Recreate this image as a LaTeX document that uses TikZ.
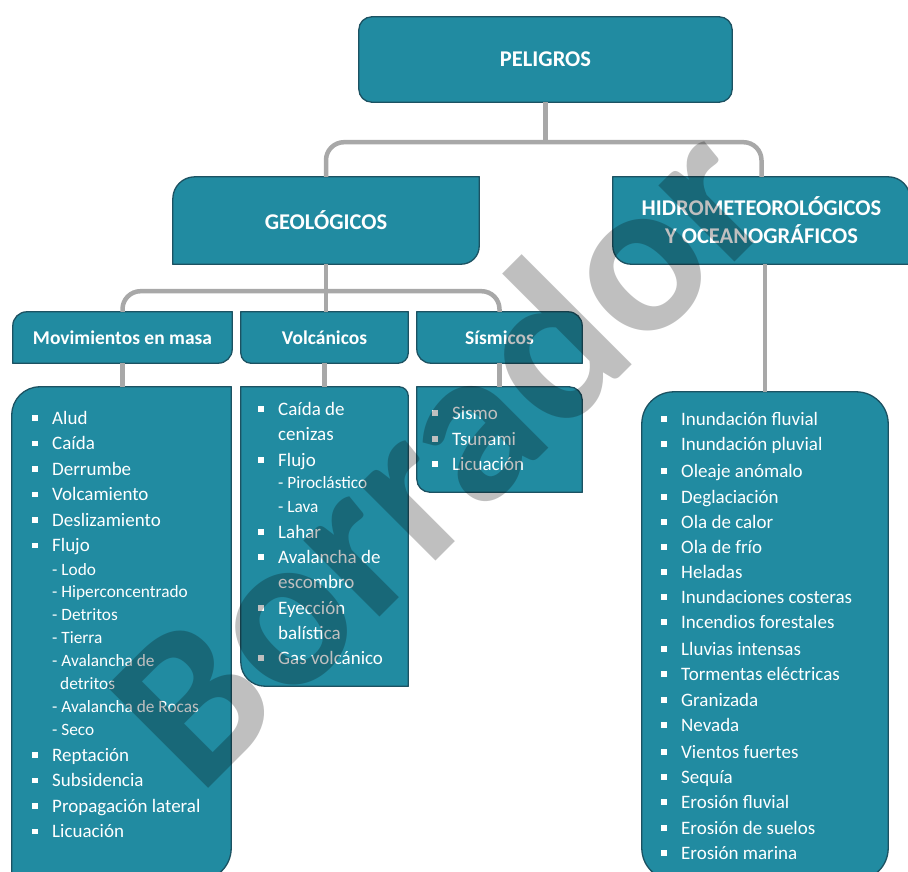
\documentclass[tikz,border=0pt]{standalone}
\usepackage{fontspec}
\setmainfont{Carlito}
\usetikzlibrary{calc}
\usetikzlibrary{backgrounds}
\definecolor{azulpel}{RGB}{33,139,161}
\definecolor{bordepel}{RGB}{28,82,98}
\definecolor{lineagris}{RGB}{168,168,168}

\tikzset{
  cajaborde/.style={fill=azulpel,draw=bordepel,line width=1.3pt},
  titulo/.style={inner sep=0pt,text=white,align=center,font=\bfseries\fontsize{22.5}{28}\selectfont},
  subtitulo/.style={titulo,font=\bfseries\fontsize{19.5}{24}\selectfont},
  lista/.style={inner sep=0pt},
  item/.style={anchor=base west,inner sep=0pt,text=white,font=\fontsize{19}{23}\selectfont},
  subitem/.style={item,font=\fontsize{17.3}{20}\selectfont},
  conector/.style={draw=lineagris,line width=4.5pt,rounded corners=18},
  marca/.style={rotate=45,text=black,text opacity=0.25,font=\bfseries\fontsize{222}{222}\selectfont}
}

% caja con radio propio en cada esquina: nodo, sup-izq, sup-der, inf-der, inf-izq
\newcommand{\dibujarcaja}[5]{%
  \begin{scope}[on background layer]
  \draw[cajaborde] ($(#1.north west)+(0,#2)$) arc[start angle=180,end angle=270,radius=#2]
    -- ($(#1.north east)-(#3,0)$) arc[start angle=270,end angle=360,radius=#3]
    -- ($(#1.south east)-(0,#4)$) arc[start angle=0,end angle=90,radius=#4]
    -- ($(#1.south west)+(#5,0)$) arc[start angle=90,end angle=180,radius=#5]
    -- cycle;
  \end{scope}}
\newcommand{\bala}{\llap{\rule[3.3pt]{5.5pt}{5.5pt}\hspace{14.5pt}}}

\begin{document}
\begin{tikzpicture}[x=1pt,y=-1pt]
  \useasboundingbox (0,0) rectangle (908,872);

  % cabeceras
  \node[titulo,minimum width=373,minimum height=85] (pel) at (545.5,59.5) {PELIGROS};
  \node[titulo,minimum width=306,minimum height=87] (geo) at (326,220.5) {GEOLÓGICOS};
  \node[titulo,minimum width=297,minimum height=87] (hid) at (761.5,220.5) {HIDROMETEOROLÓGICOS\\Y OCEANOGRÁFICOS};
  \node[subtitulo,minimum width=219,minimum height=51] (mov) at (122.5,337.5) {Movimientos en masa};
  \node[subtitulo,minimum width=167,minimum height=51] (vol) at (324.5,337.5) {Volcánicos};
  \node[subtitulo,minimum width=165,minimum height=51] (sis) at (499.5,337.5) {Sísmicos};

  % cajas de las listas
  \node[lista,minimum width=219,minimum height=493] (mlista) at (121.5,633.5) {};
  \node[lista,minimum width=167,minimum height=299] (vlista) at (324.5,536.5) {};
  \node[lista,minimum width=165,minimum height=105] (slista) at (499.5,439.5) {};
  \node[lista,minimum width=246,minimum height=488] (hlista) at (765,636) {};

  \dibujarcaja{pel}{13}{13}{13}{13}
  \dibujarcaja{geo}{22}{0.01}{18}{0.01}
  \dibujarcaja{hid}{0.01}{22}{0.01}{18}
  \dibujarcaja{mov}{14}{0.01}{14}{0.01}
  \dibujarcaja{vol}{0.01}{0.01}{10}{10}
  \dibujarcaja{sis}{0.01}{14}{0.01}{14}
  \dibujarcaja{mlista}{28}{0.01}{32}{0.01}
  \dibujarcaja{vlista}{0.01}{9}{0.01}{24}
  \dibujarcaja{slista}{0.01}{13}{0.01}{13}
  \dibujarcaja{hlista}{32}{32}{32}{32}

  % conectores
  \coordinate (bus1) at ($(pel.south)+(0,40)$);
  \coordinate (bus2) at ($(geo.south)+(0,27)$);
  \draw[conector] (pel.south) -- (bus1);
  \draw[conector] (geo.north) |- (bus1) -| (hid.north);
  \draw[conector] (geo.south) -- (geo.south |- vol.north);
  \draw[conector] (mov.north) |- (bus2) -| (sis.north);
  \draw[conector] (mov.south) -- (mov.south |- mlista.north);
  \draw[conector] (vol.south) -- (vol.south |- vlista.north);
  \draw[conector] (sis.south) -- (sis.south |- slista.north);
  \draw[conector] (hlista.north) -- (hlista.north |- hid.south);

  % movimientos en masa
  \foreach \y/\t [count=\n] in {424/Alud,449.5/Caída,475/Derrumbe,500.5/Volcamiento,526/Deslizamiento,
      551.5/Flujo,761/Reptación,786.5/Subsidencia,812/Propagación lateral,837.5/Licuación}
    \node[item] (m\n) at (52,\y) {\bala\t};
  \foreach \y/\t [count=\n] in {575.5/- Lodo,597.5/- Hiperconcentrado,620.5/- Detritos,643.5/- Tierra,
      666.5/- Avalancha de,712.5/- Avalancha de Rocas,735.5/- Seco}
    \node[subitem] (ms\n) at (52,\y) {\t};
  \node[subitem] (ms8) at (60,689.5) {detritos};

  % volcanicos
  \foreach \y/\t [count=\n] in {415/\bala Caída de,440/cenizas,466/\bala Flujo,538/\bala Lahar,
      563/\bala Avalancha de,588/escombro,614/\bala Eyección,639/balística,664/\bala Gas volcánico}
    \node[item] (v\n) at (278,\y) {\t};
  \node[subitem] (vs1) at (278,488.5) {- Piroclástico};
  \node[subitem] (vs2) at (278,512.5) {- Lava};

  % sismicos
  \foreach \y/\t [count=\n] in {419/Sismo,445/Tsunami,470/Licuación}
    \node[item] (s\n) at (452,\y) {\bala\t};

  % hidrometeorologicos
  \foreach \y/\t [count=\n] in {425/Inundación fluvial,450/Inundación pluvial,477/Oleaje anómalo,
      503/Deglaciación,528/Ola de calor,553/Ola de frío,578/Heladas,603/Inundaciones costeras,
      628/Incendios forestales,655/Lluvias intensas,680/Tormentas eléctricas,706/Granizada,
      731/Nevada,758/Vientos fuertes,783/Sequía,808/Erosión fluvial,834/Erosión de suelos,859/Erosión marina}
    \node[item] (h\n) at (681,\y) {\bala\t};

  % marca de agua
  \node[marca] (borrador) at (436,452) {Borrador};
\end{tikzpicture}
\end{document}
